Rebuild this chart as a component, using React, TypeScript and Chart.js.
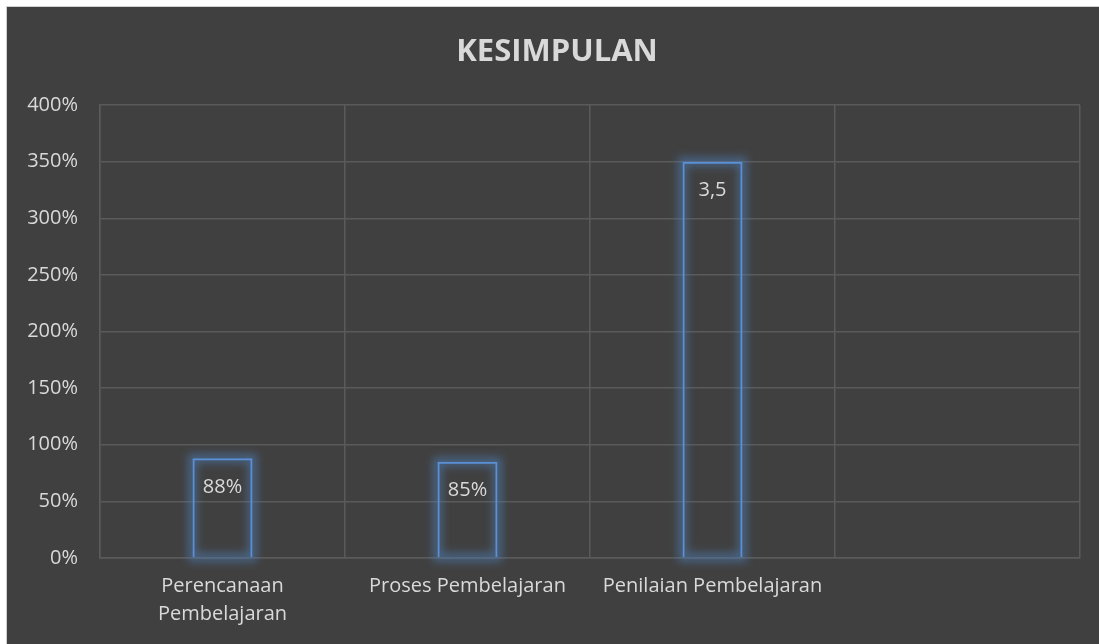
import React, { useEffect, useRef } from "react";
import { Chart, registerables } from "chart.js";

Chart.register(...registerables);

const categories: (string | string[])[] = [
  ["Perencanaan", "Pembelajaran"],
  "Proses Pembelajaran",
  "Penilaian Pembelajaran",
  "",
];
const values: (number | null)[] = [88, 85, 350, null];
const valueLabels: string[] = ["88%", "85%", "3,5", ""];
const yMin = 0;
const yMax = 400;
const yStep = 50;
const titleText = "KESIMPULAN";

const FONT = "'Open Sans', 'Noto Sans', sans-serif";
const TEXT = "#d9d9d9";

const glowPlugin = {
  id: "glowLabels",
  beforeDatasetDraw(chart: any, args: any) {
    const ctx = chart.ctx;
    const meta = chart.getDatasetMeta(args.index);
    ctx.save();
    meta.data.forEach((bar: any, i: number) => {
      if (values[i] == null) return;
      const w = bar.width;
      const x = bar.x - w / 2;
      const y = bar.y;
      const h = bar.base - bar.y;
      ctx.filter = "blur(4px)";
      ctx.strokeStyle = "rgba(79,129,189,0.55)";
      ctx.lineWidth = 9;
      ctx.strokeRect(x, y, w, h);
    });
    ctx.restore();
  },
  afterDatasetDraw(chart: any, args: any) {
    const ctx = chart.ctx;
    const meta = chart.getDatasetMeta(args.index);
    ctx.save();
    ctx.font = `20px ${FONT}`;
    ctx.fillStyle = TEXT;
    ctx.textAlign = "center";
    ctx.textBaseline = "middle";
    meta.data.forEach((bar: any, i: number) => {
      const lbl = valueLabels[i];
      if (!lbl || values[i] == null) return;
      ctx.fillText(lbl, bar.x, bar.y + 29);
    });
    ctx.restore();
  },
};

export default function App() {
  const ref = useRef<HTMLCanvasElement>(null);
  useEffect(() => {
    if (!ref.current) return;
    const chart = new Chart(ref.current, {
      type: "bar",
      data: {
        labels: categories,
        datasets: [
          {
            data: values,
            backgroundColor: "rgba(64,64,64,0)",
            borderColor: "#5b8fd6",
            borderWidth: 2,
            categoryPercentage: 1,
            barPercentage: 0.245,
          },
        ],
      },
      plugins: [glowPlugin],
      options: {
        animation: false,
        responsive: true,
        maintainAspectRatio: false,
        layout: { padding: 0 },
        plugins: {
          legend: { display: false },
          tooltip: { enabled: false },
          title: {
            display: true,
            text: titleText,
            color: TEXT,
            font: { family: FONT, size: 31, weight: "bold" },
            padding: { top: 27, bottom: 33.8 },
          },
        },
        scales: {
          x: {
            offset: true,
            grid: { offset: true, color: "#5a5a5a", lineWidth: 1.5, drawTicks: false },
            border: { color: "#5a5a5a", width: 1.5 },
            ticks: {
              color: TEXT,
              font: { family: FONT, size: 20, lineHeight: 1.4 },
              padding: 14,
              maxRotation: 0,
              autoSkip: false,
            },
            afterFit(scale: any) {
              scale.height = 86;
            },
          },
          y: {
            min: yMin,
            max: yMax,
            grid: { color: "#5a5a5a", lineWidth: 1.5, drawTicks: false },
            border: { color: "#5a5a5a", width: 1.5 },
            ticks: {
              stepSize: yStep,
              color: TEXT,
              font: { family: FONT, size: 20 },
              padding: 22,
              callback: (v: any) => `${v}%`,
            },
            afterFit(scale: any) {
              scale.width = 93;
            },
          },
          yR: {
            position: "right",
            min: yMin,
            max: yMax,
            grid: { display: false, drawTicks: false },
            border: { display: false },
            ticks: { display: false },
            afterFit(scale: any) {
              scale.width = 27;
            },
          },
        },
      },
    });
    return () => chart.destroy();
  }, []);

  return (
    <div
      style={{
        position: "absolute",
        left: 6,
        top: 6,
        width: 1100,
        height: 637,
        borderLeft: "1px solid #cfcfcf",
        borderTop: "1px solid #cfcfcf",
        background: "#404040",
      }}
    >
      <canvas ref={ref} />
    </div>
  );
}
